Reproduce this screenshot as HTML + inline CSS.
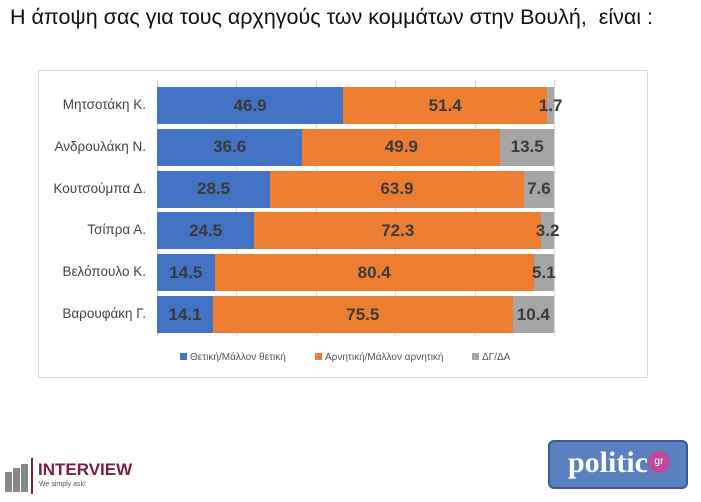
<!DOCTYPE html>
<html><head><meta charset="utf-8"><style>
body{margin:0;width:701px;height:502px;background:#fff;font-family:"Liberation Sans","DejaVu Sans",sans-serif;position:relative;overflow:hidden}
.t{position:absolute;left:10px;top:5px;font-size:21.5px;color:#111;white-space:nowrap}
.box{position:absolute;left:38px;top:70px;width:610px;height:308px;border:1px solid #d9d9d9;box-sizing:border-box}
.g{position:absolute;top:80px;height:256px;width:1px;background:#d9d9d9}
.lab{position:absolute;left:0;width:146px;text-align:right;font-size:13.5px;color:#444}
.bar{position:absolute;height:37px;display:flex}
.bar div{height:100%;display:flex;align-items:center;justify-content:center;font-weight:bold;font-size:17px;color:#3a3a3a;overflow:visible;white-space:nowrap}
.b{background:#4472c4}.o{background:#ed7d31}.y{background:#a5a5a5}
.leg{position:absolute;top:352px;font-size:10px;color:#555;white-space:nowrap}
.leg span{display:inline-block;width:7px;height:7px;margin-right:3px}
</style></head><body>
<div class="t">Η άποψη σας για τους αρχηγούς των κομμάτων στην Βουλή,&nbsp; είναι :</div>
<div class="box"></div>
<div class="g" style="left:157px"></div><div class="g" style="left:236px"></div><div class="g" style="left:316px"></div><div class="g" style="left:395px"></div><div class="g" style="left:475px"></div><div class="g" style="left:554px"></div>
<div id="rows"></div>
<script>
var d=[["Μητσοτάκη Κ.",46.9,51.4,1.7],["Ανδρουλάκη Ν.",36.6,49.9,13.5],["Κουτσούμπα Δ.",28.5,63.9,7.6],["Τσίπρα Α.",24.5,72.3,3.2],["Βελόπουλο Κ.",14.5,80.4,5.1],["Βαρουφάκη Γ.",14.1,75.5,10.4]];
var h="";d.forEach(function(r,i){var y=87+i*41.8;h+='<div class="lab" style="top:'+(y+10)+'px">'+r[0]+'</div><div class="bar" style="left:157px;top:'+y+'px;width:397px">';
['b','o','y'].forEach(function(c,j){h+='<div class="'+c+'" style="width:'+(r[j+1]*3.97)+'px">'+r[j+1].toFixed(1)+'</div>'});h+='</div>';});
document.getElementById('rows').innerHTML=h;
</script>
<div class="leg" style="left:180px"><span class="b"></span>Θετική/Μάλλον θετική</div>
<div class="leg" style="left:315px"><span class="o"></span>Αρνητική/Μάλλον αρνητική</div>
<div class="leg" style="left:472px"><span class="y"></span>ΔΓ/ΔΑ</div>
<div style="position:absolute;left:5px;top:458px;width:30px;height:36px">
<div style="position:absolute;left:0;top:14px;width:7px;height:20px;background:#888"></div>
<div style="position:absolute;left:8px;top:10px;width:7px;height:24px;background:#888"></div>
<div style="position:absolute;left:16px;top:6px;width:7px;height:28px;background:#888"></div>
<div style="position:absolute;left:26px;top:0;width:2px;height:36px;background:#7a1f3d"></div></div>
<div style="position:absolute;left:38px;top:460px;font-size:17px;font-weight:bold;color:#7a1f3d">INTERVIEW</div>
<div style="position:absolute;left:39px;top:481px;font-size:7px;color:#555">We simply ask!</div>
<div style="position:absolute;left:548px;top:440px;width:140px;height:49px;background:#5b80c0;border:2px solid #3b5a95;border-radius:6px;box-sizing:border-box"></div>
<div style="position:absolute;left:568px;top:446px;font-size:30px;font-weight:bold;color:#fff;font-family:'Liberation Serif',serif">politic</div>
<div style="position:absolute;left:648px;top:451px;width:22px;height:22px;border-radius:50%;background:#c04a9a;color:#fff;font-size:10px;text-align:center;line-height:22px">gr</div>
</body></html>
